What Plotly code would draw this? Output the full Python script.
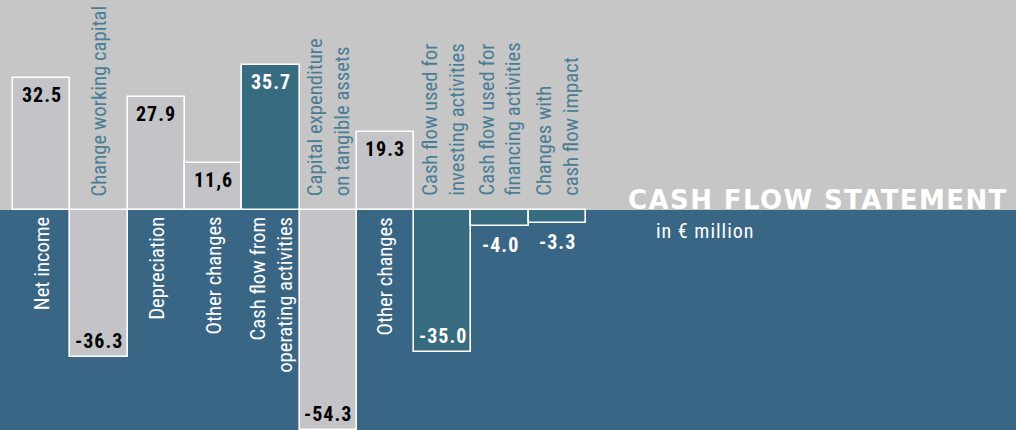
import plotly.graph_objects as go

# ---- data ----
categories = [
    "Net income",
    "Change working capital",
    "Depreciation",
    "Other changes",
    "Cash flow from<br>operating activities",
    "Capital expenditure<br>on tangible assets",
    "Other changes",
    "Cash flow used for<br>investing activities",
    "Cash flow used for<br>financing activities",
    "Changes with<br>cash flow impact",
]
values = [32.5, -36.3, 27.9, 11.6, 35.7, -54.3, 19.3, -35.0, -4.0, -3.3]
value_labels = ["32.5", "-36.3", "27.9", "11,6", "35.7", "-54.3", "19.3", "-35.0", "-4.0", "-3.3"]
is_subtotal = [False, False, False, False, True, False, False, True, True, True]

title_text = "CASH FLOW STATEMENT"
subtitle_text = "in € million"

# ---- style ----
TOP_GRAY = "#c6c6c6"
BAR_GRAY = "#c4c4c8"
BLUE_BG = "#3a6685"
TEAL = "#376b80"
LABEL_BLUE = "#4a7d95"
NARROW = "Liberation Sans Narrow, Roboto Condensed, DejaVu Sans Condensed, sans-serif"

W, H = 1016, 430
px_per_cat = 57.3
left_px = 13
baseline_px = 210
px_per_unit = 4.05

x_min = -0.5 - left_px / px_per_cat
x_max = x_min + W / px_per_cat
y_max = baseline_px / px_per_unit
y_min = -(H - baseline_px) / px_per_unit

xs = list(range(len(categories)))
colors = [TEAL if s else BAR_GRAY for s in is_subtotal]

fig = go.Figure()
fig.add_trace(go.Bar(
    x=xs, y=values, width=1.0,
    marker=dict(color=colors, line=dict(color="white", width=1.6)),
    hoverinfo="skip",
))

fig.add_shape(type="rect", xref="paper", yref="y", x0=0, x1=1, y0=0, y1=y_max,
              fillcolor=TOP_GRAY, line=dict(width=0), layer="below")

annotations = []
for i, (cat, v, lab, sub) in enumerate(zip(categories, values, value_labels, is_subtotal)):
    # category label
    if v > 0:
        annotations.append(dict(
            x=i, y=0, xref="x", yref="y", text=cat, showarrow=False, textangle=-90,
            xanchor="center", yanchor="top", yshift=-5, align="right",
            font=dict(family=NARROW, size=20.7, color="white"),
        ))
    else:
        annotations.append(dict(
            x=i, y=0, xref="x", yref="y", text=cat, showarrow=False, textangle=-90,
            xanchor="center", yanchor="bottom", yshift=12, align="left",
            font=dict(family=NARROW, size=20.7, color=LABEL_BLUE),
        ))
    # value label
    txt = "<span style='letter-spacing:1px'><b>%s</b></span>" % lab
    if v > 0:
        annotations.append(dict(
            x=i, y=v, xref="x", yref="y", text=txt, showarrow=False,
            xanchor="center", yanchor="top", yshift=-3,
            font=dict(family=NARROW, size=20, color="white" if sub else "black"),
        ))
    elif abs(v) < 6:
        annotations.append(dict(
            x=i, y=v, xref="x", yref="y", text=txt, showarrow=False,
            xanchor="center", yanchor="top", yshift=-5,
            font=dict(family=NARROW, size=20, color="white"),
        ))
    else:
        annotations.append(dict(
            x=i, y=v, xref="x", yref="y", text=txt, showarrow=False,
            xanchor="center", yanchor="bottom", yshift=2,
            font=dict(family=NARROW, size=20, color="white" if sub else "black"),
        ))

annotations.append(dict(
    x=1010 / W, y=0, xref="paper", yref="y", showarrow=False,
    text="<span style='letter-spacing:1.4px'><b>%s</b></span>" % title_text,
    xanchor="right", yanchor="bottom", yshift=-7,
    font=dict(family="DejaVu Sans", size=26, color="white"),
))
annotations.append(dict(
    x=654 / W, y=0, xref="paper", yref="y", showarrow=False,
    text="<span style='letter-spacing:1px'>%s</span>" % subtitle_text,
    xanchor="left", yanchor="top", yshift=-7,
    font=dict(family=NARROW, size=20, color="white"),
))

fig.update_layout(
    width=W, height=H,
    margin=dict(l=0, r=0, t=0, b=0),
    paper_bgcolor=BLUE_BG, plot_bgcolor=BLUE_BG,
    showlegend=False,
    xaxis=dict(range=[x_min, x_max], visible=False, fixedrange=True),
    yaxis=dict(range=[y_min, y_max], visible=False, fixedrange=True),
    annotations=annotations,
    bargap=0,
)

fig.write_html(
    "out.html",
    config={"displayModeBar": False},
    post_script="document.body.style.margin='0';document.body.style.overflow='hidden';",
)
